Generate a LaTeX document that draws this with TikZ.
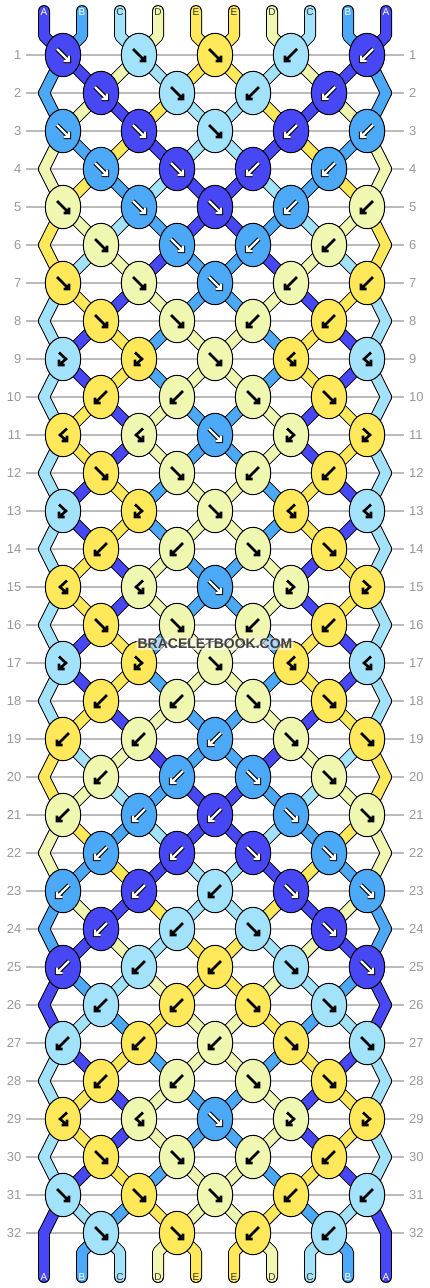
\documentclass[tikz,border=0pt]{standalone}
\usepackage{fontspec}
\setmainfont{Liberation Sans}
\usetikzlibrary{shapes.geometric}
\definecolor{colA}{HTML}{4747F5}
\definecolor{colB}{HTML}{4CA9F7}
\definecolor{colC}{HTML}{A3E2FB}
\definecolor{colD}{HTML}{EFF7B0}
\definecolor{colE}{HTML}{FFE85A}
\definecolor{numgray}{HTML}{999999}
\definecolor{linegray}{HTML}{BBBBBB}
\definecolor{wmgray}{HTML}{404040}
\definecolor{lblgray}{HTML}{333333}

\newcommand\getpt[2]{%
  \pgfmathsetmacro\px{ifthenelse(mod(#1,2)==1, 63+76*floor((#2-1)/2), ifthenelse(#2==1,44,ifthenelse(#2==10,386,101+76*(floor(#2/2)-1))))}%
  \pgfmathsetmacro\py{55+38*(#1-1)}%
}
\newcommand\glyphf[1]{\draw[#1] (-6,-6)--(6,6) (0.5,6)--(6,6)--(6,0.5);}
\newcommand\glyphb[1]{\draw[#1] (6,-6)--(-6,6) (-0.5,6)--(-6,6)--(-6,0.5);}
\newcommand\glyphfb[1]{\draw[#1] (-4,-6.5)--(3,0)--(-4,6) (-4,0.5)--(-4,6)--(1.5,6);}
\newcommand\glyphbf[1]{\draw[#1] (4,-6.5)--(-3,0)--(4,6) (4,0.5)--(4,6)--(-1.5,6);}

\def\statelist{{A,B,C,D,E,E,D,C,B,A},{B,A,D,C,E,E,C,D,A,B},{B,D,A,E,C,C,E,A,D,B},{D,B,E,A,C,C,A,E,B,D},{D,E,B,C,A,A,C,B,E,D},{E,D,C,B,A,A,B,C,D,E},{E,C,D,A,B,B,A,D,C,E},{C,E,A,D,B,B,D,A,E,C},{C,A,E,B,D,D,B,E,A,C},{C,A,E,B,D,D,B,E,A,C},{C,E,A,D,B,B,D,A,E,C},{C,E,A,D,B,B,D,A,E,C},{C,A,E,B,D,D,B,E,A,C},{C,A,E,B,D,D,B,E,A,C},{C,E,A,D,B,B,D,A,E,C},{C,E,A,D,B,B,D,A,E,C},{C,A,E,B,D,D,B,E,A,C},{C,A,E,B,D,D,B,E,A,C},{C,E,A,D,B,B,D,A,E,C},{E,C,D,A,B,B,A,D,C,E},{E,D,C,B,A,A,B,C,D,E},{D,E,B,C,A,A,C,B,E,D},{D,B,E,A,C,C,A,E,B,D},{B,D,A,E,C,C,E,A,D,B},{B,A,D,C,E,E,C,D,A,B},{A,B,C,D,E,E,D,C,B,A},{A,C,B,E,D,D,E,B,C,A},{C,A,E,B,D,D,B,E,A,C},{C,E,A,D,B,B,D,A,E,C},{C,E,A,D,B,B,D,A,E,C},{C,A,E,B,D,D,B,E,A,C},{A,C,B,E,D,D,E,B,C,A},{A,B,C,D,E,E,D,C,B,A}}

\def\knotrows{{A/f,C/f,E/f,C/b,A/b},{A/f,C/f,C/b,A/b},{B/f,A/f,C/f,A/b,B/b},{B/f,A/f,A/b,B/b},{D/f,B/f,A/f,B/b,D/b},{D/f,B/f,B/b,D/b},{E/f,D/f,B/f,D/b,E/b},{E/f,D/f,D/b,E/b},{C/fb,E/fb,D/f,E/bf,C/bf},{E/b,D/b,D/f,E/f},{E/bf,D/bf,B/f,D/fb,E/fb},{E/f,D/f,D/b,E/b},{C/fb,E/fb,D/f,E/bf,C/bf},{E/b,D/b,D/f,E/f},{E/bf,D/bf,B/f,D/fb,E/fb},{E/f,D/f,D/b,E/b},{C/fb,E/fb,D/f,E/bf,C/bf},{E/b,D/b,D/f,E/f},{E/b,D/b,B/b,D/f,E/f},{D/b,B/b,B/f,D/f},{D/b,B/b,A/b,B/f,D/f},{B/b,A/b,A/f,B/f},{B/b,A/b,C/b,A/f,B/f},{A/b,C/b,C/f,A/f},{A/b,C/b,E/b,C/f,A/f},{C/b,E/b,E/f,C/f},{C/b,E/b,D/b,E/f,C/f},{E/b,D/b,D/f,E/f},{E/bf,D/bf,B/f,D/fb,E/fb},{E/f,D/f,D/b,E/b},{C/f,E/f,D/f,E/b,C/b},{C/f,E/f,E/b,C/b}}

\newcommand\strandpass[1]{%
\foreach \st [count=\rr from 0] in \statelist {%
  \foreach \sc [count=\pos] in \st {%
    \ifnum#1=0 \tikzset{cur/.style={draw=black,line width=12,line cap=round,line join=round}}\else\tikzset{cur/.style={draw=col\sc,line width=10,line cap=round,line join=round}}\fi
    \pgfmathsetmacro\pp{44+38*(\pos-1)}%
    \ifnum\rr=0
      \getpt{1}{\pos}%
      \draw[cur] (\pp,11) -- (\pp,36) -- (\px,\py);
    \else\ifnum\rr=32
      \getpt{32}{\pos}%
      \draw[cur] (\px,\py) -- (\pp,1252) -- (\pp,1277);
    \else
      \getpt{\rr}{\pos}\let\xa\px\let\ya\py
      \pgfmathtruncatemacro\rn{\rr+1}%
      \getpt{\rn}{\pos}%
      \draw[cur] (\xa,\ya) -- (\px,\py);
    \fi\fi
  }%
}}

\begin{document}
\begin{tikzpicture}[x=1pt,y=-1pt,
  rowline/.style={draw=linegray,line width=1.2},
  rownum/.style={text=numgray,font=\fontsize{13}{13}\selectfont,inner sep=0},
  knot/.style={ellipse,draw=black,line width=1,minimum width=35.4,minimum height=43.4,inner sep=0},
  gout/.style={draw=black,line width=4.4,line cap=butt,line join=miter},
  gin/.style={draw=white,line width=2.2,line cap=butt,line join=miter},
  glight/.style={draw=black,line width=2.6,line cap=butt,line join=miter},
  lbl/.style={font=\fontsize{10}{10}\selectfont,inner sep=0},
  wm/.style={font=\bfseries\fontsize{14}{14}\selectfont,inner sep=0}]
\useasboundingbox (0,0) rectangle (430,1288);
\fill[white] (0,0) rectangle (430,1288);

% row lines and numbers
\foreach \r in {1,...,32}{
  \pgfmathsetmacro\y{55+38*(\r-1)}
  \draw[rowline] (26,\y) -- (404,\y);
  \node[rownum,anchor=east] (L\r) at (21.5,\y) {\r};
  \node[rownum,anchor=west] (R\r) at (409,\y) {\r};
}

% strands: outline pass then colour pass
\strandpass{0}
\strandpass{1}

% knots
\foreach \kr [count=\r] in \knotrows {%
  \foreach \kc/\kt [count=\k] in \kr {%
    \pgfmathsetmacro\kx{ifthenelse(mod(\r,2)==1,63,101)+76*(\k-1)}%
    \pgfmathsetmacro\ky{55+38*(\r-1)}%
    \node[knot,fill=col\kc] (k\r-\k) at (\kx,\ky) {};
    \begin{scope}[shift={(\kx,\ky)}]
      \if\kc A\def\dk{1}\else\if\kc B\def\dk{1}\else\def\dk{0}\fi\fi
      \ifnum\dk=1 \csname glyph\kt\endcsname{gout}\csname glyph\kt\endcsname{gin}\else\csname glyph\kt\endcsname{glight}\fi
    \end{scope}
  }%
}

% end labels
\foreach \lt [count=\pos] in {A,B,C,D,E,E,D,C,B,A}{
  \pgfmathsetmacro\pp{44+38*(\pos-1)}
  \if\lt A\def\lc{white}\else\if\lt B\def\lc{white}\else\def\lc{lblgray}\fi\fi
  \node[lbl,text=\lc] (t\pos) at (\pp,12) {\lt};
  \node[lbl,text=\lc] (b\pos) at (\pp,1277) {\lt};
}

% watermark
\node[wm,text=wmgray,fill=white,fill opacity=0.55,text opacity=1,inner sep=1.2,rounded corners=2] (wm) at (215,644) {BRACELETBOOK.COM};
\end{tikzpicture}
\end{document}
